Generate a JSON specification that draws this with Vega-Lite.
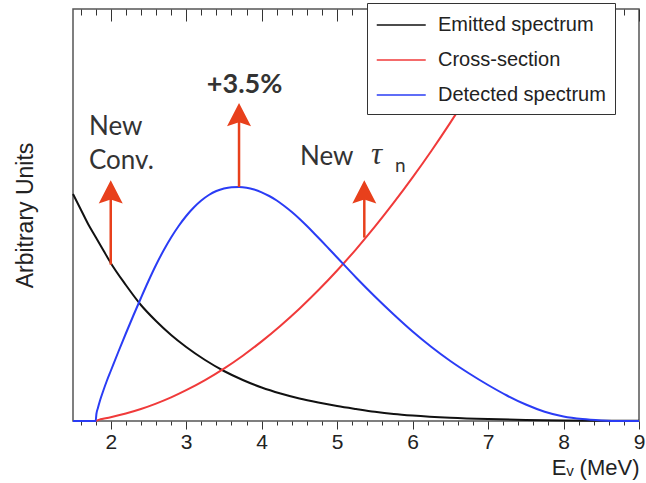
{
  "$schema": "https://vega.github.io/schema/vega-lite/v6.json",
  "width": 566,
  "height": 412,
  "autosize": {"type": "none"},
  "padding": {"left": 73, "top": 9, "right": 7, "bottom": 62},
  "background": "white",
  "config": {
    "view": {"stroke": "#555555", "strokeWidth": 1.5, "fill": "transparent"},
    "axis": {"grid": false},
    "legend": {
      "orient": "none",
      "legendX": 294,
      "legendY": -6,
      "direction": "vertical",
      "padding": 9,
      "rowPadding": 12,
      "strokeColor": "#333333",
      "fillColor": "white",
      "cornerRadius": 0,
      "symbolType": "M-1,0H3",
      "symbolSize": 600,
      "symbolStrokeWidth": 1.5,
      "labelFont": "Liberation Sans",
      "labelFontSize": 20,
      "labelColor": "#222222",
      "labelOffset": 36,
      "labelLimit": 400
    }
  },
  "datasets": {
    "curves": [
      {"series": "Emitted spectrum", "E": 1.5, "value": 227},
      {"series": "Emitted spectrum", "E": 1.6, "value": 212},
      {"series": "Emitted spectrum", "E": 1.7, "value": 197},
      {"series": "Emitted spectrum", "E": 1.8, "value": 184},
      {"series": "Emitted spectrum", "E": 1.9, "value": 171},
      {"series": "Emitted spectrum", "E": 2.0, "value": 158},
      {"series": "Emitted spectrum", "E": 2.2, "value": 136},
      {"series": "Emitted spectrum", "E": 2.4, "value": 116},
      {"series": "Emitted spectrum", "E": 2.6, "value": 100},
      {"series": "Emitted spectrum", "E": 2.8, "value": 86},
      {"series": "Emitted spectrum", "E": 3.0, "value": 74},
      {"series": "Emitted spectrum", "E": 3.25, "value": 61},
      {"series": "Emitted spectrum", "E": 3.5, "value": 50},
      {"series": "Emitted spectrum", "E": 3.75, "value": 41},
      {"series": "Emitted spectrum", "E": 4.0, "value": 33.5},
      {"series": "Emitted spectrum", "E": 4.25, "value": 27.5},
      {"series": "Emitted spectrum", "E": 4.5, "value": 22.5},
      {"series": "Emitted spectrum", "E": 4.75, "value": 18.5},
      {"series": "Emitted spectrum", "E": 5.0, "value": 15},
      {"series": "Emitted spectrum", "E": 5.25, "value": 12},
      {"series": "Emitted spectrum", "E": 5.5, "value": 9.2},
      {"series": "Emitted spectrum", "E": 5.75, "value": 7},
      {"series": "Emitted spectrum", "E": 6.0, "value": 5.4},
      {"series": "Emitted spectrum", "E": 6.5, "value": 3.2},
      {"series": "Emitted spectrum", "E": 7.0, "value": 1.9},
      {"series": "Emitted spectrum", "E": 7.5, "value": 1.1},
      {"series": "Emitted spectrum", "E": 8.0, "value": 0.6},
      {"series": "Emitted spectrum", "E": 8.5, "value": 0.35},
      {"series": "Emitted spectrum", "E": 9.0, "value": 0.2},
      {"series": "Cross-section", "E": 1.8, "value": 0},
      {"series": "Cross-section", "E": 1.85, "value": 1.4},
      {"series": "Cross-section", "E": 1.9, "value": 2.2},
      {"series": "Cross-section", "E": 2.0, "value": 3.8},
      {"series": "Cross-section", "E": 2.2, "value": 7.5},
      {"series": "Cross-section", "E": 2.4, "value": 12.0},
      {"series": "Cross-section", "E": 2.6, "value": 17.4},
      {"series": "Cross-section", "E": 2.8, "value": 23.6},
      {"series": "Cross-section", "E": 3.0, "value": 30.8},
      {"series": "Cross-section", "E": 3.25, "value": 40.9},
      {"series": "Cross-section", "E": 3.5, "value": 52.4},
      {"series": "Cross-section", "E": 3.75, "value": 65.3},
      {"series": "Cross-section", "E": 4.0, "value": 79.6},
      {"series": "Cross-section", "E": 4.25, "value": 95.3},
      {"series": "Cross-section", "E": 4.5, "value": 112.3},
      {"series": "Cross-section", "E": 4.75, "value": 130.7},
      {"series": "Cross-section", "E": 5.0, "value": 150.5},
      {"series": "Cross-section", "E": 5.25, "value": 171.7},
      {"series": "Cross-section", "E": 5.5, "value": 194.3},
      {"series": "Cross-section", "E": 5.75, "value": 218.3},
      {"series": "Cross-section", "E": 6.0, "value": 243.6},
      {"series": "Cross-section", "E": 6.25, "value": 270.3},
      {"series": "Cross-section", "E": 6.5, "value": 298.4},
      {"series": "Cross-section", "E": 6.75, "value": 327.9},
      {"series": "Cross-section", "E": 7.0, "value": 358.8},
      {"series": "Cross-section", "E": 7.25, "value": 391.0},
      {"series": "Cross-section", "E": 7.4, "value": 411},
      {"series": "Detected spectrum", "E": 1.5, "value": 0},
      {"series": "Detected spectrum", "E": 1.8, "value": 0},
      {"series": "Detected spectrum", "E": 1.81, "value": 7},
      {"series": "Detected spectrum", "E": 1.83, "value": 13},
      {"series": "Detected spectrum", "E": 1.86, "value": 21},
      {"series": "Detected spectrum", "E": 1.9, "value": 30},
      {"series": "Detected spectrum", "E": 1.95, "value": 40.5},
      {"series": "Detected spectrum", "E": 2.0, "value": 50},
      {"series": "Detected spectrum", "E": 2.1, "value": 69},
      {"series": "Detected spectrum", "E": 2.2, "value": 87.5},
      {"series": "Detected spectrum", "E": 2.3, "value": 105.5},
      {"series": "Detected spectrum", "E": 2.4, "value": 123},
      {"series": "Detected spectrum", "E": 2.5, "value": 140},
      {"series": "Detected spectrum", "E": 2.6, "value": 156},
      {"series": "Detected spectrum", "E": 2.7, "value": 170.5},
      {"series": "Detected spectrum", "E": 2.8, "value": 183.5},
      {"series": "Detected spectrum", "E": 2.9, "value": 195},
      {"series": "Detected spectrum", "E": 3.0, "value": 205},
      {"series": "Detected spectrum", "E": 3.1, "value": 213.5},
      {"series": "Detected spectrum", "E": 3.2, "value": 220.5},
      {"series": "Detected spectrum", "E": 3.3, "value": 226},
      {"series": "Detected spectrum", "E": 3.4, "value": 230},
      {"series": "Detected spectrum", "E": 3.5, "value": 232.5},
      {"series": "Detected spectrum", "E": 3.6, "value": 233.8},
      {"series": "Detected spectrum", "E": 3.7, "value": 234},
      {"series": "Detected spectrum", "E": 3.8, "value": 233.3},
      {"series": "Detected spectrum", "E": 3.9, "value": 231.5},
      {"series": "Detected spectrum", "E": 4.0, "value": 228.7},
      {"series": "Detected spectrum", "E": 4.1, "value": 225},
      {"series": "Detected spectrum", "E": 4.2, "value": 220.5},
      {"series": "Detected spectrum", "E": 4.3, "value": 215},
      {"series": "Detected spectrum", "E": 4.4, "value": 209},
      {"series": "Detected spectrum", "E": 4.5, "value": 202.3},
      {"series": "Detected spectrum", "E": 4.6, "value": 195},
      {"series": "Detected spectrum", "E": 4.7, "value": 187.3},
      {"series": "Detected spectrum", "E": 4.8, "value": 179.5},
      {"series": "Detected spectrum", "E": 4.9, "value": 171.5},
      {"series": "Detected spectrum", "E": 5.0, "value": 163.5},
      {"series": "Detected spectrum", "E": 5.25, "value": 143.5},
      {"series": "Detected spectrum", "E": 5.5, "value": 124.5},
      {"series": "Detected spectrum", "E": 5.75, "value": 106.5},
      {"series": "Detected spectrum", "E": 6.0, "value": 89.5},
      {"series": "Detected spectrum", "E": 6.25, "value": 74},
      {"series": "Detected spectrum", "E": 6.5, "value": 60},
      {"series": "Detected spectrum", "E": 6.75, "value": 47.5},
      {"series": "Detected spectrum", "E": 7.0, "value": 36},
      {"series": "Detected spectrum", "E": 7.25, "value": 25.5},
      {"series": "Detected spectrum", "E": 7.5, "value": 16.5},
      {"series": "Detected spectrum", "E": 7.75, "value": 9.3},
      {"series": "Detected spectrum", "E": 8.0, "value": 4.5},
      {"series": "Detected spectrum", "E": 8.25, "value": 1.9},
      {"series": "Detected spectrum", "E": 8.5, "value": 0.6},
      {"series": "Detected spectrum", "E": 8.75, "value": 0},
      {"series": "Detected spectrum", "E": 9.0, "value": 0}
    ],
    "arrows": [
      {"E": 2.0, "value": 156.4, "value2": 224.7},
      {"E": 3.7, "value": 234, "value2": 302},
      {"E": 5.36, "value": 183.4, "value2": 224.7}
    ],
    "notes": [
      {"text": "New", "E": 1.712, "value": 285.7, "kind": "plain"},
      {"text": "Conv.", "E": 1.712, "value": 252.4, "kind": "plain"},
      {"text": "New", "E": 4.508, "value": 256.4, "kind": "plain"},
      {"text": "+3.5%", "E": 3.774, "value": 328, "kind": "bold"},
      {"text": "τ", "E": 5.45, "value": 257.4, "kind": "greek"},
      {"text": "n", "E": 5.766, "value": 249, "kind": "sub"}
    ]
  },
  "resolve": {"axis": {"x": "independent"}},
  "layer": [
    {
      "data": {"name": "curves"},
      "mark": {"type": "line", "strokeWidth": 2, "interpolate": "monotone"},
      "encoding": {
        "x": {
          "field": "E", "type": "quantitative",
          "scale": {"domain": [1.5, 9], "nice": false, "zero": false},
          "axis": {
            "orient": "bottom", "values": [2, 3, 4, 5, 6, 7, 8, 9],
            "tickSize": 8, "tickColor": "#333333", "tickWidth": 1,
            "domain": false, "labelPadding": 2, "labelFlush": false,
            "labelFont": "Liberation Sans", "labelFontSize": 21, "labelColor": "#222222",
            "title": "Eᵥ (MeV)", "titleFont": "Liberation Sans", "titleFontSize": 22,
            "titleFontWeight": "normal", "titleColor": "#222222",
            "titleAnchor": "end", "titlePadding": 5
          }
        },
        "y": {
          "field": "value", "type": "quantitative",
          "scale": {"domain": [0, 412], "nice": false, "zero": false},
          "axis": {
            "orient": "left",
            "title": "Arbitrary Units", "labels": false, "ticks": false, "domain": false,
            "titleFont": "Liberation Sans", "titleFontSize": 23,
            "titleFontWeight": "normal", "titleColor": "#222222", "titlePadding": 36
          }
        },
        "color": {
          "field": "series", "type": "nominal", "sort": null,
          "scale": {
            "domain": ["Emitted spectrum", "Cross-section", "Detected spectrum"],
            "range": ["#111111", "#f03a3a", "#2a3cf5"]
          },
          "legend": {"title": null, "labelExpr": "datum.label + '     '"}
        }
      }
    },
    {
      "data": {"name": "arrows"},
      "mark": {"type": "rule", "color": "#e8401c", "strokeWidth": 2.5},
      "encoding": {
        "x": {
          "field": "E", "type": "quantitative",
          "axis": {
            "orient": "bottom",
            "values": [1.6, 1.8, 2.2, 2.4, 2.6, 2.8, 3.2, 3.4, 3.6, 3.8, 4.2, 4.4, 4.6, 4.8, 5.2, 5.4, 5.6, 5.8, 6.2, 6.4, 6.6, 6.8, 7.2, 7.4, 7.6, 7.8, 8.2, 8.4, 8.6, 8.8],
            "tickSize": 4, "tickColor": "#333333", "labels": false, "domain": false, "title": null
          }
        },
        "y": {"field": "value", "type": "quantitative"},
        "y2": {"field": "value2"}
      }
    },
    {
      "data": {"name": "arrows"},
      "mark": {"type": "point", "shape": "M0,-1L0.75,0.45L0,0.2L-0.75,0.45Z", "size": 1024, "filled": true, "color": "#e8401c", "opacity": 1, "strokeWidth": 0},
      "encoding": {
        "x": {
          "field": "E", "type": "quantitative",
          "axis": {
            "orient": "top", "values": [2, 3, 4, 5, 6, 7, 8, 9],
            "offset": -12, "tickSize": 12, "tickColor": "#333333", "labels": false, "domain": false, "title": null
          }
        },
        "y": {"field": "value2", "type": "quantitative"}
      }
    },
    {
      "data": {"name": "notes"},
      "transform": [{"filter": "datum.kind === 'plain'"}],
      "mark": {"type": "text", "align": "left", "baseline": "alphabetic", "font": "Lato", "fontSize": 26, "color": "#333333"},
      "encoding": {
        "x": {
          "field": "E", "type": "quantitative",
          "axis": {
            "orient": "top",
            "values": [1.6, 1.8, 2.2, 2.4, 2.6, 2.8, 3.2, 3.4, 3.6, 3.8, 4.2, 4.4, 4.6, 4.8, 5.2, 5.4, 5.6, 5.8, 6.2, 6.4, 6.6, 6.8, 7.2, 7.4, 7.6, 7.8, 8.2, 8.4, 8.6, 8.8],
            "offset": -6, "tickSize": 6, "tickColor": "#333333", "labels": false, "domain": false, "title": null
          }
        },
        "y": {"field": "value", "type": "quantitative"},
        "text": {"field": "text"}
      }
    },
    {
      "data": {"name": "notes"},
      "transform": [{"filter": "datum.kind === 'bold'"}],
      "mark": {"type": "text", "align": "center", "baseline": "alphabetic", "font": "Lato", "fontSize": 27, "fontWeight": "bold", "color": "#333333"},
      "encoding": {
        "x": {"field": "E", "type": "quantitative", "axis": null},
        "y": {"field": "value", "type": "quantitative"},
        "text": {"field": "text"}
      }
    },
    {
      "data": {"name": "notes"},
      "transform": [{"filter": "datum.kind === 'greek'"}],
      "mark": {"type": "text", "align": "left", "baseline": "alphabetic", "font": "Liberation Serif", "fontStyle": "italic", "fontSize": 31, "color": "#333333"},
      "encoding": {
        "x": {"field": "E", "type": "quantitative", "axis": null},
        "y": {"field": "value", "type": "quantitative"},
        "text": {"field": "text"}
      }
    },
    {
      "data": {"name": "notes"},
      "transform": [{"filter": "datum.kind === 'sub'"}],
      "mark": {"type": "text", "align": "left", "baseline": "alphabetic", "font": "Lato", "fontSize": 19, "color": "#333333"},
      "encoding": {
        "x": {"field": "E", "type": "quantitative", "axis": null},
        "y": {"field": "value", "type": "quantitative"},
        "text": {"field": "text"}
      }
    }
  ]
}
